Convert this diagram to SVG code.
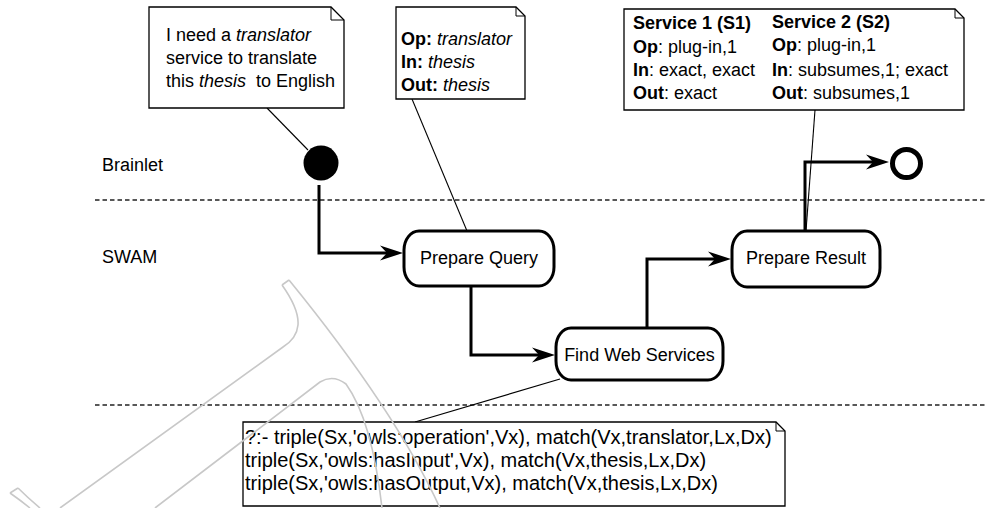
<svg xmlns="http://www.w3.org/2000/svg" width="987" height="508" viewBox="0 0 987 508">
<style>
text{font-family:"Liberation Sans",Arial,sans-serif;font-size:18px;fill:#000;white-space:pre}
.b{font-weight:bold}
.i{font-style:italic}
.q{font-size:20px}
.note{fill:#fff;stroke:#000;stroke-width:1.3}
.fold{fill:none;stroke:#000;stroke-width:1}
.act{fill:#fff;stroke:#000;stroke-width:3}
.flow{fill:none;stroke:#000;stroke-width:3;marker-end:url(#ah)}
.thin{fill:none;stroke:#000;stroke-width:1.1}
.lane{stroke:#222;stroke-width:1.3;stroke-dasharray:4.5 3}
.wm{fill:none;stroke:#c8c8c8;stroke-width:1.6}
</style>
<defs>
<marker id="ah" markerUnits="userSpaceOnUse" viewBox="0 0 24 16" refX="13" refY="8" markerWidth="24" markerHeight="16" orient="auto">
<path d="M0,0.5 L23,8 L0,15.5 L7,8 Z" fill="#000"/>
</marker>
</defs>
<rect width="987" height="508" fill="#fff"/>
<g id="lanes">
<line class="lane" x1="95" y1="200" x2="987" y2="200"/>
<line class="lane" x1="95" y1="405" x2="987" y2="405"/>
<text x="102" y="171">Brainlet</text>
<text x="102" y="263">SWAM</text>
</g>
<g id="connectors">
<line class="thin" x1="267" y1="108" x2="308" y2="150"/>
<line class="thin" x1="412" y1="99" x2="467" y2="231"/>
<line class="thin" x1="815" y1="110" x2="806" y2="231"/>
<line class="thin" x1="415" y1="422" x2="560" y2="379"/>
<path class="flow" d="M319,185 V253 H393"/>
<path class="flow" d="M471,287 V355 H545"/>
<path class="flow" d="M647,328 V259 H721"/>
<path class="flow" d="M805,231 V162 H879"/>
</g>
<g id="start">
<circle cx="321" cy="163" r="17.5" fill="#000"/>
</g>
<g id="end">
<circle cx="906.5" cy="163.5" r="14" fill="#fff" stroke="#000" stroke-width="5"/>
</g>
<g id="prepare-query">
<rect class="act" x="404" y="231" width="150" height="55" rx="15" ry="19"/>
<text x="479" y="264" text-anchor="middle">Prepare Query</text>
</g>
<g id="find-web-services">
<rect class="act" x="556" y="328" width="167" height="52" rx="15" ry="19"/>
<text x="639.5" y="361" text-anchor="middle">Find Web Services</text>
</g>
<g id="prepare-result">
<rect class="act" x="732" y="231" width="148" height="56" rx="15" ry="19"/>
<text x="806" y="264" text-anchor="middle">Prepare Result</text>
</g>
<g id="note-request">
<path class="note" d="M149,7 H331 L344,20 V108 H149 Z"/>
<path class="fold" d="M331,7 V20 H344"/>
<text x="166" y="41">I need a <tspan class="i">translator</tspan></text>
<text x="166" y="64">service to translate</text>
<text x="166" y="87">this <tspan class="i">thesis</tspan>  to English</text>
</g>
<g id="note-query">
<path class="note" d="M396,7 H516 L525,16 V99 H396 Z"/>
<path class="fold" d="M516,7 V16 H525"/>
<text x="401" y="45"><tspan class="b">Op:</tspan> <tspan class="i">translator</tspan></text>
<text x="401" y="68"><tspan class="b">In:</tspan> <tspan class="i">thesis</tspan></text>
<text x="401" y="91"><tspan class="b">Out:</tspan> <tspan class="i">thesis</tspan></text>
</g>
<g id="note-result">
<path class="note" d="M624,9 H955 L964,18 V110 H624 Z"/>
<path class="fold" d="M955,9 V18 H964"/>
<text x="633" y="29" class="b">Service 1 (S1)</text>
<text x="633" y="53"><tspan class="b">Op</tspan>: plug-in,1</text>
<text x="633" y="76"><tspan class="b">In</tspan>: exact, exact</text>
<text x="633" y="99"><tspan class="b">Out</tspan>: exact</text>
<text x="772" y="28" class="b">Service 2 (S2)</text>
<text x="772" y="51"><tspan class="b">Op</tspan>: plug-in,1</text>
<text x="772" y="76"><tspan class="b">In</tspan>: subsumes,1; exact</text>
<text x="772" y="99"><tspan class="b">Out</tspan>: subsumes,1</text>
</g>
<g id="note-triples">
<path class="note" d="M243,422 H776 L785,431 V506 H243 Z"/>
<path class="fold" d="M776,422 V431 H785"/>
<text class="q" x="245" y="444">?:- triple(Sx,'owls:operation',Vx), match(Vx,translator,Lx,Dx)</text>
<text class="q" x="245" y="467">triple(Sx,'owls:hasInput',Vx), match(Vx,thesis,Lx,Dx)</text>
<text class="q" x="245" y="490">triple(Sx,'owls:hasOutput,Vx), match(Vx,thesis,Lx,Dx)</text>
</g>
<g id="watermark">
<path class="wm" d="M282,285 L289,280"/>
<path class="wm" d="M282,285 C292,299 299,312 298,325 C297,336 291,342 283,347 L60,508"/>
<path class="wm" d="M289,280 Q395,410 440,508"/>
<path class="wm" d="M155,508 L320,382 Q333,374 346,384 Q372,420 382,508"/>
<path class="wm" d="M10,493 L18,488"/>
<path class="wm" d="M10,493 Q20,500 30,508"/>
<path class="wm" d="M18,488 Q28,498 40,508"/>
</g>
</svg>
